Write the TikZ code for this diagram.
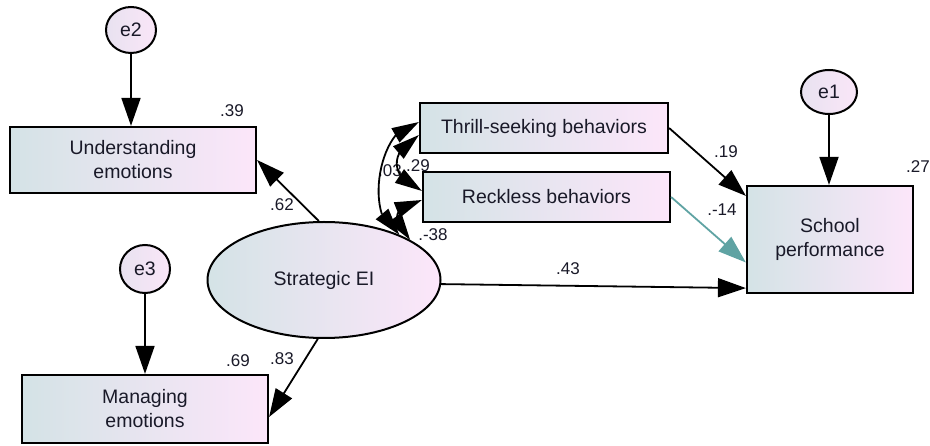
\documentclass[tikz,border=0pt]{standalone}
\usepackage{fontspec}
\setmainfont{Liberation Sans}
\usetikzlibrary{arrows.meta,calc,shapes.geometric,bending}

\definecolor{boxL}{RGB}{212,227,230}
\definecolor{boxR}{RGB}{252,230,250}
\definecolor{errL}{RGB}{232,226,240}
\definecolor{errR}{RGB}{250,230,248}
\definecolor{pathteal}{RGB}{95,163,163}
\definecolor{ink}{RGB}{25,25,40}

\tikzset{
  obs/.style={draw, line width=2.2pt, left color=boxL, right color=boxR,
    inner sep=0pt, align=center, text=ink, font=\fontsize{19.5}{24}\selectfont},
  latent/.style={ellipse, draw, line width=2pt, left color=boxL, right color=boxR,
    inner sep=0pt, text=ink, font=\fontsize{19.5}{24}\selectfont},
  errvar/.style={ellipse, draw, line width=2pt, left color=errL, right color=errR,
    inner sep=0pt, text=ink, font=\fontsize{19.5}{24}\selectfont},
  lab/.style={inner sep=0pt, text=ink, font=\fontsize{17}{20}\selectfont},
  reg/.style={line width=1.8pt, -{Triangle[length=28pt,width=19pt]}},
  cov/.style={line width=1.8pt,
    {Triangle[length=27pt,width=16pt]}-{Triangle[length=27pt,width=16pt]}}
}

\begin{document}
\begin{tikzpicture}[x=1pt,y=-1pt]
\useasboundingbox (0,0) rectangle (930,446);

% observed indicators and outcome
\node[obs, minimum width=246pt, minimum height=66pt] (und) at (133,160) {Understanding\\emotions};
\node[obs, minimum width=246pt, minimum height=68pt] (man) at (145,409) {Managing\\emotions};
\node[obs, minimum width=248pt, minimum height=50pt] (thrill) at (544,128) {Thrill-seeking behaviors};
\node[obs, minimum width=247pt, minimum height=50pt] (reck) at (546.5,197) {Reckless behaviors};
\node[obs, minimum width=166pt, minimum height=107pt] (school) at (830,239.5) {School\\performance};

% latent factor and error terms
\node[latent, minimum width=233pt, minimum height=116pt] (sei) at (324,280) {Strategic EI};
\node[errvar, minimum width=50pt, minimum height=46pt] (e2) at (131,30) {e2};
\node[errvar, minimum width=50pt, minimum height=48pt] (e3) at (145,269) {e3};
\node[errvar, minimum width=56pt, minimum height=44pt] (e1) at (829,92) {e1};

% error paths
\draw[reg] (e2.south) -- (e2.south |- und.north);
\draw[reg] (e3.south) -- (e3.south |- man.north);
\draw[reg] (e1.south) -- (e1.south |- school.north);

% structural paths
\draw[reg] (sei.95) -- (und.east);
\draw[reg] (sei.264) -- ($(man.east)+(0,8)$);
\draw[reg] (sei.-2) -- ($(school.south west)+(0,-6)$);
\draw[reg] (thrill.east) -- ($(school.north west)+(0,11)$);
\draw[reg, pathteal] (reck.east) -- ($(school.west)+(0,23)$);

% coefficient labels
\node[lab] (l39) at (232,111) {.39};
\node[lab] (l62) at (282,205) {.62};
\node[lab] (l69) at (238,361) {.69};
\node[lab] (l83) at (282,359) {.83};
\node[lab] (l03) at (390,171) {.03};
\node[lab] (l29) at (418,166) {.29};
\node[lab] (l38) at (433,235) {.-38};
\node[lab] (l19) at (726,152) {.19};
\node[lab] (l14) at (722,210) {.-14};
\node[lab] (l43) at (568,269) {.43};
\node[lab] (l27) at (918,167) {.27};

% covariances
\coordinate (tA) at ($(thrill.west)+(0,-6)$);
\coordinate (tB) at ($(thrill.west)+(0,7)$);
\coordinate (rB) at ($(reck.west)+(0,-6)$);
\coordinate (rC) at ($(reck.west)+(0,3)$);
\draw[cov] (tA) .. controls ($(tA)+(-42,2)$) and ($(sei.31)+(-36,-12)$) .. (sei.31);
\draw[cov] (tB) .. controls ($(tB)+(-30,16)$) and ($(rB)+(-33,-13)$) .. (rB);
\draw[cov] (rC) .. controls ($(rC)+(-30,5)$) and ($(sei.25)+(-20,-18)$) .. (sei.25);
\end{tikzpicture}
\end{document}
